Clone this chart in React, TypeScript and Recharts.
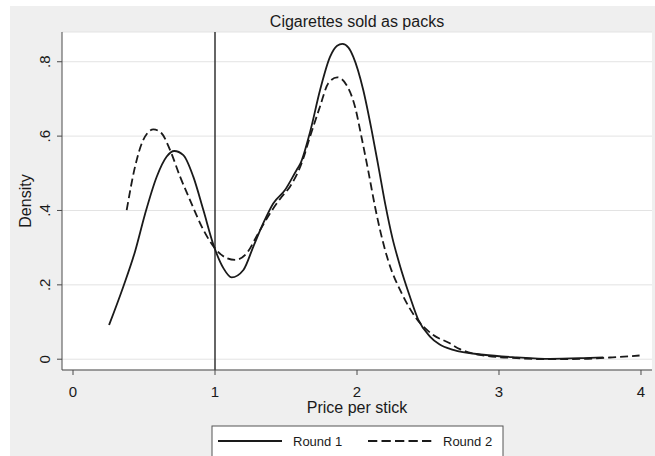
import { LineChart, Line, XAxis, YAxis, CartesianGrid, ReferenceLine } from "recharts";

// Kernel density estimates
const round1Price = [
  0.254, 0.354, 0.437, 0.507, 0.589, 0.66, 0.713, 0.777, 0.847, 0.918, 0.993, 1.059, 1.117,
  1.2, 1.27, 1.34, 1.41, 1.493, 1.575, 1.6, 1.67, 1.74, 1.81, 1.86, 1.897, 1.94, 1.974,
  2.044, 2.104, 2.15, 2.2, 2.25, 2.3, 2.373, 2.432, 2.514, 2.58, 2.678, 2.89, 3.125,
  3.36, 3.594, 3.735,
];
const round1Density = [
  0.092, 0.195, 0.29, 0.39, 0.49, 0.545, 0.56, 0.549, 0.491, 0.401, 0.303, 0.245, 0.22,
  0.24, 0.303, 0.366, 0.419, 0.455, 0.509, 0.525, 0.612, 0.724, 0.813, 0.843, 0.848, 0.838, 0.813,
  0.724, 0.614, 0.52, 0.415, 0.325, 0.255, 0.168, 0.106, 0.061, 0.04, 0.025, 0.012, 0.005,
  0.001, 0.003, 0.005,
];

const round2Price = [
  0.378, 0.437, 0.495, 0.566, 0.625, 0.683, 0.754, 0.824, 0.918, 1.0, 1.082, 1.141, 1.223,
  1.305, 1.387, 1.47, 1.528, 1.61, 1.669, 1.739, 1.798, 1.861, 1.927, 1.986, 2.033, 2.08,
  2.127, 2.17, 2.22, 2.315, 2.408, 2.537, 2.643, 2.725, 2.913, 3.125, 3.36, 3.59, 3.8, 3.99,
];
const round2Density = [
  0.401, 0.518, 0.59, 0.618, 0.607, 0.563, 0.491, 0.428, 0.348, 0.298, 0.272, 0.267, 0.285,
  0.339, 0.392, 0.437, 0.464, 0.527, 0.598, 0.679, 0.742, 0.758, 0.737, 0.679, 0.595, 0.505,
  0.41, 0.335, 0.265, 0.177, 0.115, 0.065, 0.045, 0.027, 0.009, 0.003, 0.0, 0.001, 0.005, 0.01,
];

const xTicks = [0, 1, 2, 3, 4];
const yTicks = [0, 0.2, 0.4, 0.6, 0.8];

const round1 = round1Price.map((p, i) => ({ price: p, density: round1Density[i] }));
const round2 = round2Price.map((p, i) => ({ price: p, density: round2Density[i] }));

const FONT = "'Liberation Sans', Arial, sans-serif";
const INK = "#1a1a1a";
const AXIS = "#4a4a4a";

const fmtY = (v: number) => (v === 0 ? "0" : v.toFixed(1).replace(/^0/, ""));

const DensityTick = ({ x, y, payload }: any) => (
  <text
    x={x}
    y={y}
    transform={`rotate(-90, ${x}, ${y})`}
    textAnchor="middle"
    fill={INK}
    fontSize={15}
    fontFamily={FONT}
  >
    {fmtY(payload.value)}
  </text>
);

const PriceTick = ({ x, y, payload }: any) => (
  <text x={x} y={y + 21.5} textAnchor="middle" fill={INK} fontSize={15} fontFamily={FONT}>
    {payload.value}
  </text>
);

export default function App() {
  return (
    <div style={{ position: "absolute", left: 0, top: 0, width: 655, height: 456, background: "#fff" }}>
      <div style={{ position: "absolute", left: 10, top: 6, right: 0, bottom: 0, background: "#efefef" }} />
      <LineChart
        width={655}
        height={456}
        margin={{ top: 32, right: 3, left: 0, bottom: 0 }}
        style={{ position: "absolute", left: 0, top: 0 }}
      >
        <CartesianGrid vertical={false} stroke="#e3e3e3" fill="#fff" />
        <XAxis
          dataKey="price"
          type="number"
          domain={[-0.0775, 4.0775]}
          ticks={xTicks}
          height={86}
          stroke={AXIS}
          tickSize={5}
          tickMargin={0}
          tick={<PriceTick />}
          allowDataOverflow
        />
        <YAxis
          dataKey="density"
          type="number"
          domain={[-0.029, 0.88]}
          ticks={yTicks}
          width={62}
          stroke={AXIS}
          tickSize={5}
          tickMargin={7}
          tick={<DensityTick />}
          allowDataOverflow
        />
        <ReferenceLine x={1} stroke="#333" strokeWidth={1.5} />
        <Line
          data={round1}
          dataKey="density"
          type="monotone"
          stroke={INK}
          strokeWidth={1.8}
          dot={false}
          isAnimationActive={false}
        />
        <Line
          data={round2}
          dataKey="density"
          type="monotone"
          stroke={INK}
          strokeWidth={1.8}
          strokeDasharray="8 4"
          dot={false}
          isAnimationActive={false}
        />

        <text x={357} y={27} textAnchor="middle" fill={INK} fontSize={16} fontFamily={FONT}>
          Cigarettes sold as packs
        </text>
        <text
          x={31}
          y={201}
          transform="rotate(-90, 31, 201)"
          textAnchor="middle"
          fill={INK}
          fontSize={16}
          fontFamily={FONT}
        >
          Density
        </text>
        <text x={357} y={413} textAnchor="middle" fill={INK} fontSize={16} fontFamily={FONT}>
          Price per stick
        </text>

        <g>
          <rect x={212} y={426} width={291} height={40} fill="#fff" stroke="#555" strokeWidth={1} />
          <line x1={218} y1={441} x2={282} y2={441} stroke={INK} strokeWidth={1.8} />
          <text x={293} y={446} fill={INK} fontSize={13} fontFamily={FONT}>
            Round 1
          </text>
          <line x1={368} y1={441} x2={432} y2={441} stroke={INK} strokeWidth={1.8} strokeDasharray="9.3 4.2" />
          <text x={443} y={446} fill={INK} fontSize={13} fontFamily={FONT}>
            Round 2
          </text>
        </g>
      </LineChart>
    </div>
  );
}
